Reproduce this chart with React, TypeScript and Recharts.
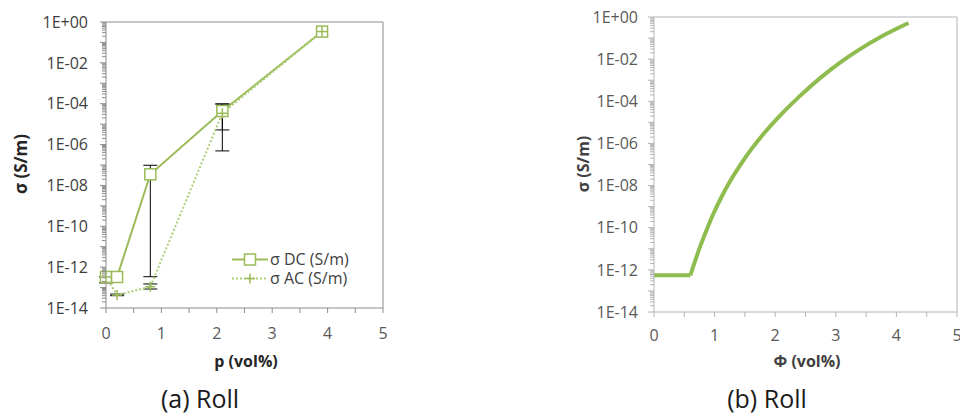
import React from 'react';
import { LineChart, Line, XAxis, YAxis, ErrorBar, ReferenceLine, Legend } from 'recharts';

const FONT = '"Open Sans", "Noto Sans", sans-serif';
const GREEN = '#9bbb59';
const GREEN_DOT = '#aecf78';
const CURVE = '#8fbc4f';
const AXIS_A = '#8c8c8c';
const AXIS_B = '#b4b4b4';

// (a) measured conductivity, Roll
const pVol = [0, 0.2, 0.8, 2.1, 3.9];
const sigmaDC = [3.3e-13, 3.3e-13, 3.5e-8, 4.4e-5, 0.34];
const sigmaAC = [3.3e-13, 4.3e-14, 1.1e-13, 3.4e-5, 0.34];
// error bar bounds (absolute values), null = no bar
const dcLow = [1.7e-13, null, 3.4e-13, 4.9e-7, null];
const dcHigh = [3.3e-13, null, 9.7e-8, 9.7e-5, null];
const acLow = [null, 4.0e-14, 8.5e-14, 5.2e-6, null];
const acHigh = [null, 4.8e-14, 1.5e-13, 9.7e-5, null];

// (b) model curve, Roll (flat up to the threshold, then rising)
const phiVol = [0, 0.6, 0.76, 0.87, 0.98, 1.12, 1.25, 1.42, 1.61, 1.83, 2.08, 2.41, 2.74, 3.07, 3.4, 3.73, 4.2];
const sigmaModel = [5.5e-13, 5.5e-13, 1.26e-11, 8.1e-11, 4.6e-10, 3.1e-9, 1.5e-8, 9.1e-8, 5.5e-7, 3.4e-6, 2.1e-5, 1.8e-4, 1.26e-3, 6.9e-3, 3.0e-2, 0.11, 0.52];
const thresholdIndex = 1;

const xTicks = [0, 0.5, 1, 1.5, 2, 2.5, 3, 3.5, 4, 4.5, 5];
const decades = [-14, -13, -12, -11, -10, -9, -8, -7, -6, -5, -4, -3, -2, -1];
const minorSteps = [1, 2, 3, 4, 5, 6, 7, 8, 9];
const yTicks = [...decades.flatMap((e) => minorSteps.map((m) => m * Math.pow(10, e))), 1];

const legendOrder = ['dc', 'ac'];

const dataA = pVol.map((p, i) => ({
  p,
  dc: sigmaDC[i],
  ac: sigmaAC[i],
  dcErr: dcLow[i] == null ? null : [sigmaDC[i] - (dcLow[i] as number), (dcHigh[i] as number) - sigmaDC[i]],
  acErr: acLow[i] == null ? null : [sigmaAC[i] - (acLow[i] as number), (acHigh[i] as number) - sigmaAC[i]],
}));

const dataB = phiVol.map((phi, i) => ({ phi, sigma: sigmaModel[i] }));
const flatPart = dataB.slice(0, thresholdIndex + 1);
const risePart = dataB.slice(thresholdIndex);

function fmtExp(e: number) {
  return '1E' + (e >= 0 ? '+' : '-') + String(Math.abs(e)).padStart(2, '0');
}

function LogTick(props: any) {
  const { x, y, payload, color, labelColor, gap } = props;
  const lg = Math.log10(payload.value);
  const e = Math.round(lg);
  const decade = Math.abs(lg - e) < 1e-6;
  const labelled = decade && e % 2 === 0;
  const len = decade ? 6 : 4;
  return (
    <g>
      <line x1={x - len} x2={x} y1={y} y2={y} stroke={color} strokeWidth={1} />
      {labelled && (
        <text x={x - gap} y={y} dy="0.36em" textAnchor="end" fill={labelColor} fontSize={16} fontFamily={FONT}>
          {fmtExp(e)}
        </text>
      )}
    </g>
  );
}

const SquareDot = (props: any) => {
  const { cx, cy, index } = props;
  if (cx == null || cy == null) return null;
  return <rect key={`sq-${index}`} x={cx - 5.5} y={cy - 5.5} width={11} height={11} fill="#fff" stroke={GREEN} strokeWidth={1.5} />;
};

const PlusDot = (props: any) => {
  const { cx, cy, index } = props;
  if (cx == null || cy == null) return null;
  return (
    <g key={`pl-${index}`}>
      <line x1={cx - 5} x2={cx + 5} y1={cy} y2={cy} stroke={GREEN} strokeWidth={1.5} />
      <line x1={cx} x2={cx} y1={cy - 5} y2={cy + 5} stroke={GREEN} strokeWidth={1.5} />
    </g>
  );
};

function LegendBox(props: any) {
  const items = [...(props.payload || [])].sort(
    (a: any, b: any) => legendOrder.indexOf(a.dataKey) - legendOrder.indexOf(b.dataKey)
  );
  return (
    <div style={{ fontFamily: FONT, fontSize: 16, color: '#404040', lineHeight: '19px' }}>
      {items.map((it: any) => {
        const isDC = it.dataKey === 'dc';
        return (
          <div key={it.value} style={{ display: 'flex', alignItems: 'center', height: 19 }}>
            <svg width={38} height={19} style={{ flex: 'none' }}>
              <line x1={0} x2={36} y1={9.5} y2={9.5} stroke={isDC ? GREEN : GREEN_DOT} strokeWidth={2} strokeDasharray={isDC ? undefined : '2 2'} />
              {isDC ? (
                <rect x={12.5} y={4} width={11} height={11} fill="#fff" stroke={GREEN} strokeWidth={1.5} />
              ) : (
                <g>
                  <line x1={13} x2={23} y1={9.5} y2={9.5} stroke={GREEN} strokeWidth={1.5} />
                  <line x1={18} x2={18} y1={4.5} y2={14.5} stroke={GREEN} strokeWidth={1.5} />
                </g>
              )}
            </svg>
            <span style={{ whiteSpace: 'nowrap' }}>{it.value}</span>
          </div>
        );
      })}
    </div>
  );
}

const xFmt = (v: number) => (Number.isInteger(v) ? String(v) : '');

export default function App() {
  return (
    <div style={{ position: 'absolute', left: 0, top: 0, width: 960, height: 414, background: '#fff', fontFamily: FONT, overflow: 'hidden' }}>
      <div style={{ position: 'absolute', left: 0, top: 0 }}>
        <LineChart width={400} height={350} data={dataA} margin={{ top: 22, right: 17, bottom: 12, left: 0 }}>
          <ReferenceLine y={1} stroke={AXIS_A} />
          <ReferenceLine x={5} stroke={AXIS_A} />
          <XAxis
            type="number"
            dataKey="p"
            domain={[0, 5]}
            ticks={xTicks}
            interval={0}
            tickFormatter={xFmt}
            tickSize={5}
            tickMargin={15}
            height={30}
            axisLine={{ stroke: AXIS_A }}
            tickLine={{ stroke: AXIS_A }}
            tick={{ fill: '#595959', fontSize: 16, fontFamily: FONT }}
          />
          <YAxis
            type="number"
            scale="log"
            domain={[1e-14, 1]}
            ticks={yTicks}
            interval={0}
            width={106}
            tickSize={0}
            tickMargin={0}
            tickLine={false}
            axisLine={{ stroke: AXIS_A }}
            tick={(p: any) => <LogTick {...p} color={AXIS_A} labelColor="#404040" gap={18} />}
          />
          <Line type="linear" dataKey="dc" name="σ DC (S/m)" stroke={GREEN} strokeWidth={2} dot={SquareDot} activeDot={false} isAnimationActive={false}>
            <ErrorBar dataKey="dcErr" direction="y" width={7} stroke="#000" strokeWidth={1} isAnimationActive={false} />
          </Line>
          <Line type="linear" dataKey="ac" name="σ AC (S/m)" stroke={GREEN_DOT} strokeWidth={2} strokeDasharray="2 2" dot={PlusDot} activeDot={false} isAnimationActive={false}>
            <ErrorBar dataKey="acErr" direction="y" width={7} stroke="#000" strokeWidth={1} isAnimationActive={false} />
          </Line>
          <Legend layout="vertical" align="center" verticalAlign="middle" wrapperStyle={{ left: 232, top: 250, width: 150 }} content={LegendBox} />
        </LineChart>
      </div>

      <div style={{ position: 'absolute', left: 530, top: 0 }}>
        <LineChart width={430} height={350} margin={{ top: 17, right: 3, bottom: 8, left: 0 }}>
          <ReferenceLine y={1} stroke={AXIS_B} />
          <ReferenceLine x={5} stroke={AXIS_B} />
          <XAxis
            type="number"
            dataKey="phi"
            domain={[0, 5]}
            ticks={xTicks}
            interval={0}
            tickFormatter={xFmt}
            tickSize={5}
            tickMargin={13}
            height={30}
            axisLine={{ stroke: AXIS_B }}
            tickLine={{ stroke: AXIS_B }}
            tick={{ fill: '#595959', fontSize: 16, fontFamily: FONT }}
          />
          <YAxis
            type="number"
            scale="log"
            domain={[1e-14, 1]}
            ticks={yTicks}
            interval={0}
            width={124}
            tickSize={0}
            tickMargin={0}
            tickLine={false}
            axisLine={{ stroke: AXIS_B }}
            tick={(p: any) => <LogTick {...p} color={AXIS_B} labelColor="#595959" gap={16} />}
          />
          <Line data={flatPart} type="linear" dataKey="sigma" stroke={CURVE} strokeWidth={4} dot={false} activeDot={false} isAnimationActive={false} />
          <Line data={risePart} type="monotone" dataKey="sigma" stroke={CURVE} strokeWidth={4} dot={false} activeDot={false} isAnimationActive={false} />
        </LineChart>
      </div>

      <svg width={960} height={414} style={{ position: 'absolute', left: 0, top: 0, pointerEvents: 'none' }} fontFamily={FONT}>
        <text x={20} y={164} transform="rotate(-90 20 164)" textAnchor="middle" dominantBaseline="central" fontSize={17} fontWeight="bold" fill="#262626">σ (S/m)</text>
        <text x={246} y={367} textAnchor="middle" fontSize={16} fontWeight="bold" fill="#262626">p (vol%)</text>
        <text x={200} y={408} textAnchor="middle" fontSize={25} fill="#1a1a1a">(a) Roll</text>

        <text x={583} y={164} transform="rotate(-90 583 164)" textAnchor="middle" dominantBaseline="central" fontSize={16} fontWeight="bold" fill="#404040">σ (S/m)</text>
        <text x={807} y={367} textAnchor="middle" fontSize={16} fontWeight="bold" fill="#404040">Φ (vol%)</text>
        <text x={767} y={408} textAnchor="middle" fontSize={25} fill="#1a1a1a">(b) Roll</text>
      </svg>
    </div>
  );
}
